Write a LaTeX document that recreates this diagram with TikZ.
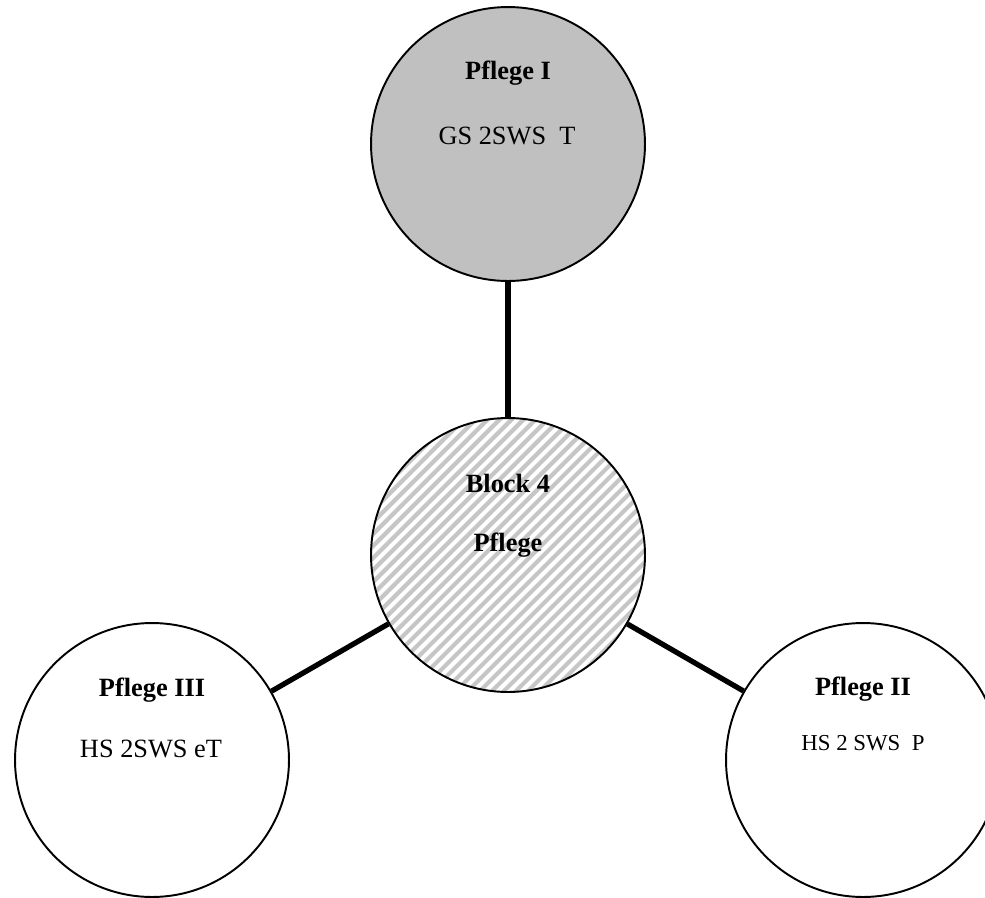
\documentclass[tikz,border=0pt]{standalone}
\usepackage{fontspec}
\setmainfont{Liberation Serif}
\begin{document}
\begin{tikzpicture}[x=0.02cm,y=-0.02cm,
  blob/.style={circle,draw=black,line width=1.1pt,minimum size=5.48cm,inner sep=0pt},
  link/.style={line width=3pt,black},
  lbl/.style={inner sep=0pt,font=\fontsize{15}{18}\selectfont},
  ttl/.style={lbl,font=\fontsize{15}{18}\selectfont\bfseries}]
\useasboundingbox (0,0) rectangle (985,897);
\clip (0,0) rectangle (985,897);
\definecolor{hatchgray}{RGB}{198,198,198}
\definecolor{topgray}{RGB}{192,192,192}
% nodes
\node[blob,fill=topgray] (top) at (508,144) {};
\node[blob,fill=white,
  path picture={\foreach \k in {-35,...,35}
    \draw[hatchgray,line width=2.4pt] ([xshift=\k*0.24cm]path picture bounding box.center) ++(-4cm,-4cm) -- ++(8cm,8cm);}]
  (mid) at (508,555) {};
\node[blob] (left) at (152,760) {};
\node[blob] (right) at (863,760) {};
% connectors
\draw[link] (mid) -- (top);
\draw[link] (mid) -- (left);
\draw[link] (mid) -- (right);
% texts
\node[ttl] (t1) at (508,73) {Pflege I};
\node[lbl] (t2) at (507,136) {GS 2SWS\ \ T};
\node[ttl] (m1) at (508,483) {Block 4};
\node[ttl] (m2) at (508,545) {Pflege};
\node[ttl] (l1) at (152,690) {Pflege III};
\node[lbl] (l2) at (151,749) {HS 2SWS eT};
\node[ttl] (r1) at (863,689) {Pflege II};
\node[lbl,font=\fontsize{13}{16}\selectfont] (r2) at (863,743) {HS 2 SWS\ \ P};
\end{tikzpicture}
\end{document}
